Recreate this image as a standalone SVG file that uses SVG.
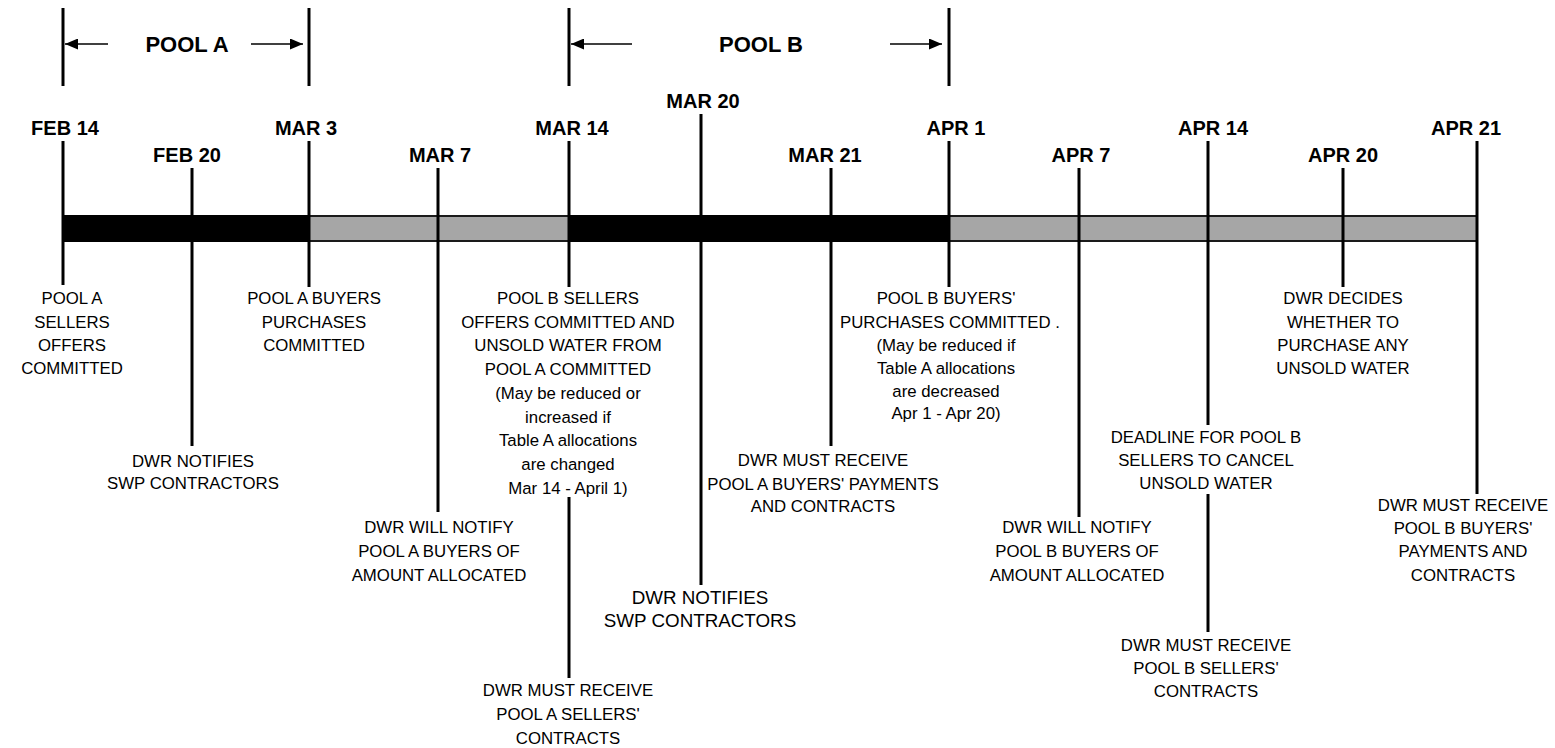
<svg xmlns="http://www.w3.org/2000/svg" width="1555" height="748" viewBox="0 0 1555 748">
<style>
.d{font-family:"Liberation Sans",Arial,sans-serif;font-weight:bold;font-size:20px;text-anchor:middle;fill:#000}
.p{font-family:"Liberation Sans",Arial,sans-serif;font-weight:bold;font-size:22px;text-anchor:middle;fill:#000}
.t{font-family:"Liberation Sans",Arial,sans-serif;font-size:16.8px;text-anchor:middle;fill:#000}
.tl{font-family:"Liberation Sans",Arial,sans-serif;font-size:18.8px;text-anchor:middle;fill:#000}
.tick{stroke:#000;stroke-width:3;fill:none}
.arr{stroke:#000;stroke-width:1.6;fill:none;marker-end:url(#ah)}
.blk{fill:#000}
.gry{fill:#a6a6a6;stroke:#1a1a1a;stroke-width:2}
</style>
<defs>
<marker id="ah" viewBox="0 0 13 11" refX="13" refY="5.5" markerWidth="13" markerHeight="11" markerUnits="userSpaceOnUse" orient="auto">
<path d="M0,0 L13,5.5 L0,11 Z" fill="#000"/>
</marker>
</defs>
<rect width="1555" height="748" fill="#fff"/>

<g id="timeline-bar">
<rect class="blk" x="63" y="215" width="246" height="27"/>
<rect class="gry" x="309" y="216" width="260" height="25"/>
<rect class="blk" x="569" y="215" width="380" height="27"/>
<rect class="gry" x="949" y="216" width="528" height="25"/>
</g>

<g id="pool-markers">
<line class="tick" x1="63" y1="8" x2="63" y2="86"/>
<line class="tick" x1="309" y1="8" x2="309" y2="86"/>
<line class="tick" x1="569" y1="8" x2="569" y2="86"/>
<line class="tick" x1="949" y1="8" x2="949" y2="86"/>
<text class="p" x="187" y="52">POOL A</text>
<text class="p" x="761" y="52">POOL B</text>
</g>

<g id="connectors">
<line class="arr" x1="108" y1="44" x2="65" y2="44"/>
<line class="arr" x1="251" y1="44" x2="303" y2="44"/>
<line class="arr" x1="632" y1="44" x2="571" y2="44"/>
<line class="arr" x1="890" y1="44" x2="942" y2="44"/>
<line class="tick" x1="63" y1="141" x2="63" y2="285"/>
<line class="tick" x1="192" y1="168" x2="192" y2="446"/>
<line class="tick" x1="309" y1="141" x2="309" y2="287"/>
<line class="tick" x1="438" y1="168" x2="438" y2="512"/>
<line class="tick" x1="569" y1="141" x2="569" y2="287"/>
<line class="tick" x1="569" y1="497" x2="569" y2="678"/>
<line class="tick" x1="701" y1="114" x2="701" y2="585"/>
<line class="tick" x1="831" y1="168" x2="831" y2="446"/>
<line class="tick" x1="949" y1="141" x2="949" y2="287"/>
<line class="tick" x1="1079" y1="168" x2="1079" y2="517"/>
<line class="tick" x1="1208" y1="141" x2="1208" y2="425"/>
<line class="tick" x1="1208" y1="494" x2="1208" y2="632"/>
<line class="tick" x1="1343" y1="168" x2="1343" y2="287"/>
<line class="tick" x1="1477" y1="141" x2="1477" y2="494"/>
</g>

<g id="feb14">
<text class="d" x="65" y="135">FEB 14</text>
<text class="t" x="72" y="304">POOL A</text>
<text class="t" x="72" y="328">SELLERS</text>
<text class="t" x="72" y="351">OFFERS</text>
<text class="t" x="72" y="374">COMMITTED</text>
</g>
<g id="feb20">
<text class="d" x="187" y="162">FEB 20</text>
<text class="t" x="193" y="467">DWR NOTIFIES</text>
<text class="t" x="193" y="489">SWP CONTRACTORS</text>
</g>
<g id="mar3">
<text class="d" x="306" y="135">MAR 3</text>
<text class="t" x="314" y="304">POOL A BUYERS</text>
<text class="t" x="314" y="328">PURCHASES</text>
<text class="t" x="314" y="351">COMMITTED</text>
</g>
<g id="mar7">
<text class="d" x="440" y="162">MAR 7</text>
<text class="t" x="439" y="533">DWR WILL NOTIFY</text>
<text class="t" x="439" y="557">POOL A BUYERS OF</text>
<text class="t" x="439" y="581">AMOUNT ALLOCATED</text>
</g>
<g id="mar14">
<text class="d" x="572" y="135">MAR 14</text>
<text class="t" x="568" y="304">POOL B SELLERS</text>
<text class="t" x="568" y="328">OFFERS COMMITTED AND</text>
<text class="t" x="568" y="351">UNSOLD WATER FROM</text>
<text class="t" x="568" y="375">POOL A COMMITTED</text>
<text class="t" x="568" y="399">(May be reduced or</text>
<text class="t" x="568" y="423">increased if</text>
<text class="t" x="568" y="446">Table A allocations</text>
<text class="t" x="568" y="470">are changed</text>
<text class="t" x="568" y="494">Mar 14 - April 1)</text>
<text class="t" x="568" y="696">DWR MUST RECEIVE</text>
<text class="t" x="568" y="720">POOL A SELLERS'</text>
<text class="t" x="568" y="744">CONTRACTS</text>
</g>
<g id="mar20">
<text class="d" x="703" y="108">MAR 20</text>
<text class="tl" x="700" y="604">DWR NOTIFIES</text>
<text class="tl" x="700" y="627">SWP CONTRACTORS</text>
</g>
<g id="mar21">
<text class="d" x="825" y="162">MAR 21</text>
<text class="t" x="823" y="466">DWR MUST RECEIVE</text>
<text class="t" x="823" y="490">POOL A BUYERS' PAYMENTS</text>
<text class="t" x="823" y="512">AND CONTRACTS</text>
</g>
<g id="apr1">
<text class="d" x="956" y="135">APR 1</text>
<text class="t" x="946" y="304">POOL B BUYERS'</text>
<text class="t" x="950" y="328">PURCHASES COMMITTED .</text>
<text class="t" x="946" y="351">(May be reduced if</text>
<text class="t" x="946" y="374">Table A allocations</text>
<text class="t" x="946" y="397">are decreased</text>
<text class="t" x="946" y="419">Apr 1 - Apr 20)</text>
</g>
<g id="apr7">
<text class="d" x="1081" y="162">APR 7</text>
<text class="t" x="1077" y="533">DWR WILL NOTIFY</text>
<text class="t" x="1077" y="557">POOL B BUYERS OF</text>
<text class="t" x="1077" y="581">AMOUNT ALLOCATED</text>
</g>
<g id="apr14">
<text class="d" x="1213" y="135">APR 14</text>
<text class="t" x="1206" y="443">DEADLINE FOR POOL B</text>
<text class="t" x="1206" y="466">SELLERS TO CANCEL</text>
<text class="t" x="1206" y="489">UNSOLD WATER</text>
<text class="t" x="1206" y="651">DWR MUST RECEIVE</text>
<text class="t" x="1206" y="674">POOL B SELLERS'</text>
<text class="t" x="1206" y="697">CONTRACTS</text>
</g>
<g id="apr20">
<text class="d" x="1343" y="162">APR 20</text>
<text class="t" x="1343" y="304">DWR DECIDES</text>
<text class="t" x="1343" y="328">WHETHER TO</text>
<text class="t" x="1343" y="351">PURCHASE ANY</text>
<text class="t" x="1343" y="374">UNSOLD WATER</text>
</g>
<g id="apr21">
<text class="d" x="1466" y="135">APR 21</text>
<text class="t" x="1463" y="511">DWR MUST RECEIVE</text>
<text class="t" x="1463" y="534">POOL B BUYERS'</text>
<text class="t" x="1463" y="557">PAYMENTS AND</text>
<text class="t" x="1463" y="581">CONTRACTS</text>
</g>
</svg>
